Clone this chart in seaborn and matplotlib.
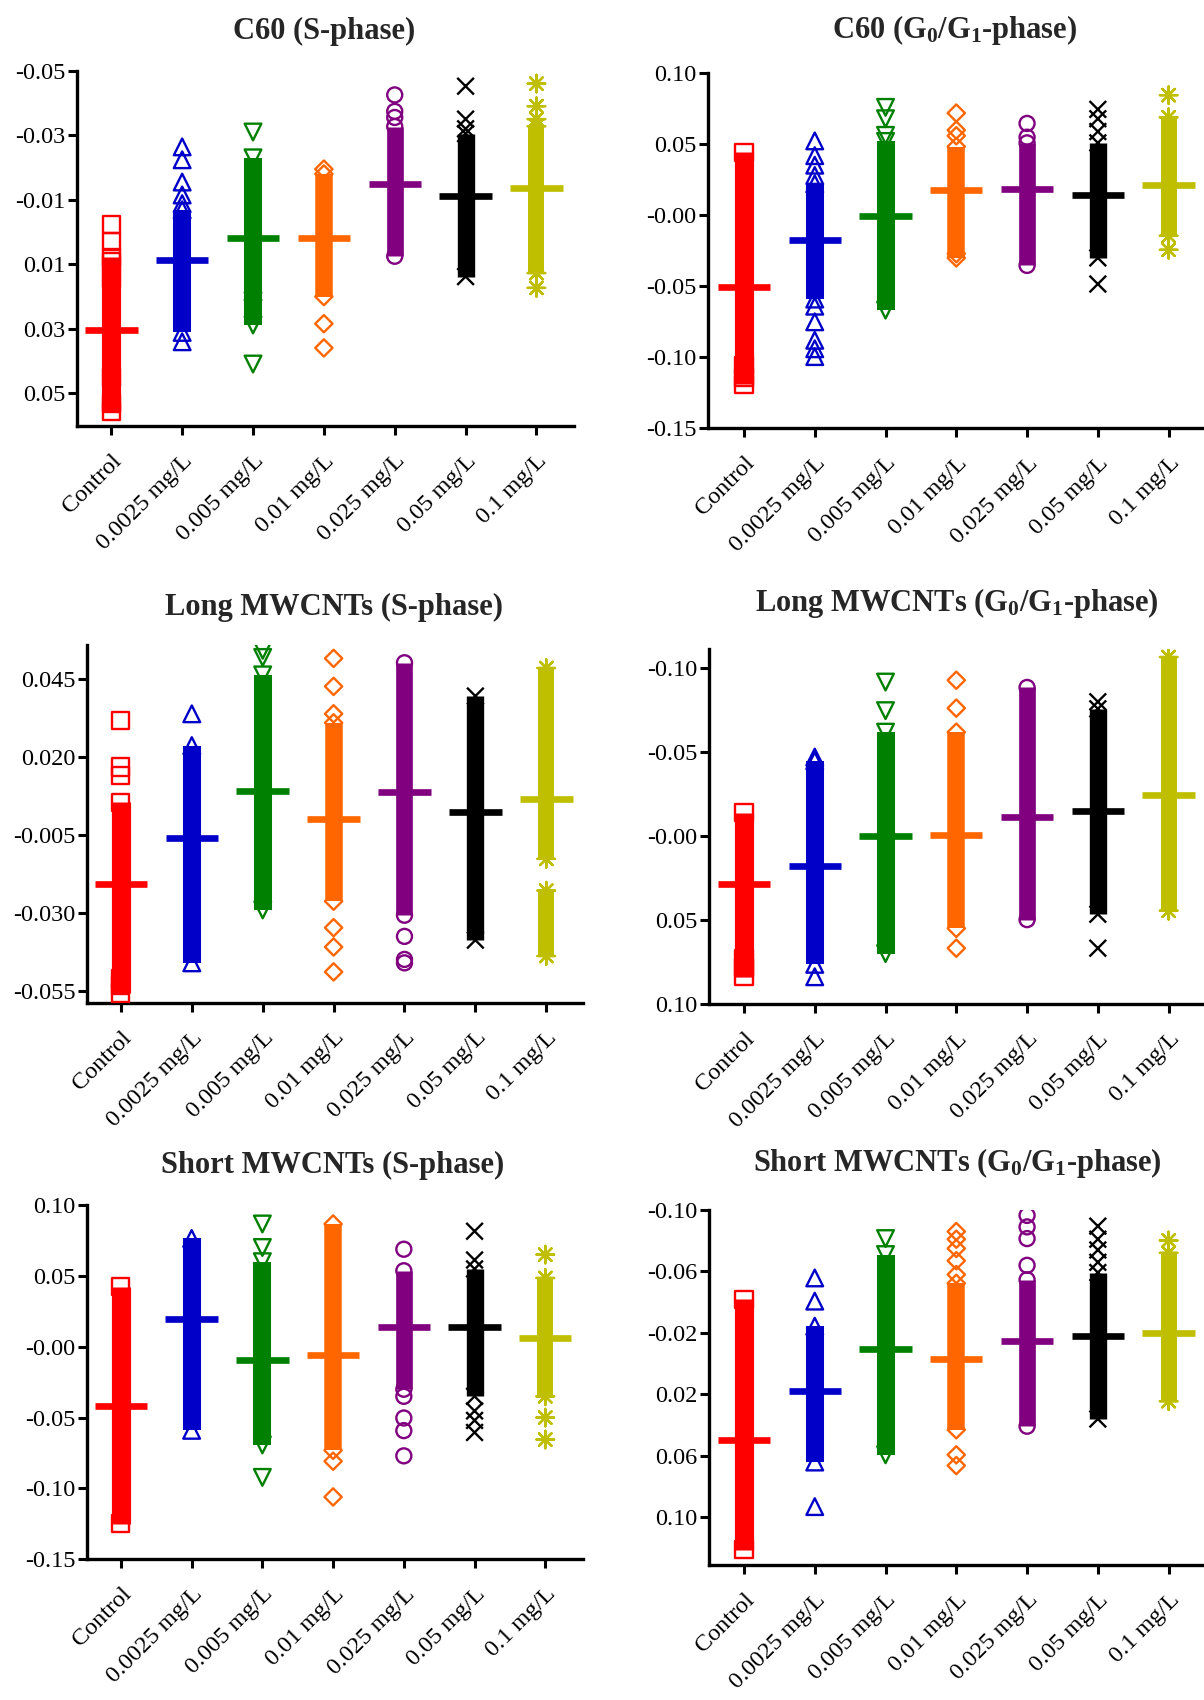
import numpy as np
import pandas as pd
import matplotlib
matplotlib.use("Agg")
import matplotlib.pyplot as plt
import matplotlib.transforms as mtransforms
from matplotlib.collections import PathCollection
import seaborn as sns

sns.set_theme(style="ticks")
plt.rcParams["font.family"] = ["Liberation Serif", "DejaVu Serif"]
plt.rcParams["mathtext.fontset"] = "custom"
plt.rcParams["mathtext.rm"] = "Liberation Serif:bold"
plt.rcParams["mathtext.bf"] = "Liberation Serif:bold"
plt.rcParams["mathtext.it"] = "Liberation Serif:bold"

# ---------------- data ----------------
categories = ["Control", "0.0025 mg/L", "0.005 mg/L", "0.01 mg/L",
              "0.025 mg/L", "0.05 mg/L", "0.1 mg/L"]

titles = ["C60 (S-phase)", r"C60 (G$_{0}$/G$_{1}$-phase)",
          "Long MWCNTs (S-phase)", r"Long MWCNTs (G$_{0}$/G$_{1}$-phase)",
          "Short MWCNTs (S-phase)", r"Short MWCNTs (G$_{0}$/G$_{1}$-phase)"]

# tick values and tick labels
c60_s_ticks = [-0.05, -0.03, -0.01, 0.01, 0.03, 0.05]
c60_s_ticklabels = ["-0.05", "-0.03", "-0.01", "0.01", "0.03", "0.05"]
c60_g_ticks = [0.10, 0.05, 0.00, -0.05, -0.10, -0.15]
c60_g_ticklabels = ["0.10", "0.05", "-0.00", "-0.05", "-0.10", "-0.15"]
long_s_ticks = [0.045, 0.020, -0.005, -0.030, -0.055]
long_s_ticklabels = ["0.045", "0.020", "-0.005", "-0.030", "-0.055"]
long_g_ticks = [-0.10, -0.05, 0.00, 0.05, 0.10]
long_g_ticklabels = ["-0.10", "-0.05", "-0.00", "0.05", "0.10"]
short_s_ticks = [0.10, 0.05, 0.00, -0.05, -0.10, -0.15]
short_s_ticklabels = ["0.10", "0.05", "-0.00", "-0.05", "-0.10", "-0.15"]
short_g_ticks = [-0.10, -0.06, -0.02, 0.02, 0.06, 0.10]
short_g_ticklabels = ["-0.10", "-0.06", "-0.02", "0.02", "0.06", "0.10"]

# group means
c60_s_means = [0.0305, 0.0087, 0.0018, 0.0018, -0.0149, -0.0112, -0.0135]
c60_g_means = [-0.0503, -0.0175, -0.0008, 0.0175, 0.0183, 0.0144, 0.0215]
long_s_means = [-0.0207, -0.0061, 0.0091, 0.0001, 0.0088, 0.0023, 0.0064]
long_g_means = [0.0288, 0.0180, 0.0003, -0.0005, -0.0112, -0.0148, -0.0246]
short_s_means = [-0.0415, 0.0199, -0.0095, -0.0055, 0.0138, 0.0138, 0.0062]
short_g_means = [0.0496, 0.0175, -0.0098, -0.0030, -0.0146, -0.0179, -0.0198]

# ranges densely covered by overlapping points (low, high)
c60_s_dense = [[(0.0078, 0.0555)], [(-0.0069, 0.0311)], [(-0.0230, 0.0288)],
               [(-0.0180, 0.0200)], [(-0.0327, 0.0075)], [(-0.0305, 0.0138)],
               [(-0.0328, 0.0127)]]
c60_g_dense = [[(-0.119, 0.0445)], [(-0.059, 0.0222)], [(-0.0668, 0.052)],
               [(-0.030, 0.0484)], [(-0.0353, 0.051)], [(-0.030, 0.051)],
               [(-0.0144, 0.069)]]
long_s_dense = [[(-0.0558, 0.0055)], [(-0.0461, 0.0237)], [(-0.0291, 0.0464)],
                [(-0.0263, 0.031)], [(-0.0308, 0.0503)], [(-0.0388, 0.0396)],
                [(-0.0127, 0.0486), (-0.0439, -0.0229)]]
long_g_dense = [[(-0.0139, 0.0838)], [(-0.0447, 0.0764)], [(-0.0617, 0.070)],
                [(-0.0617, 0.055)], [(-0.0883, 0.0498)], [(-0.0756, 0.0466)],
                [(-0.1064, 0.0445)]]
short_s_dense = [[(-0.125, 0.0422)], [(-0.059, 0.0764)], [(-0.0693, 0.060)],
                 [(-0.0731, 0.0866)], [(-0.030, 0.0536)], [(-0.035, 0.0549)],
                 [(-0.035, 0.0485)]]
short_g_dense = [[(-0.0419, 0.121)], [(-0.0244, 0.064)], [(-0.071, 0.0593)],
                 [(-0.0523, 0.043)], [(-0.0546, 0.0407)], [(-0.0593, 0.036)],
                 [(-0.0721, 0.0244)]]

# isolated points
c60_s_points = [[-0.0023, 0.0029, 0.009, 0.0145, 0.045, 0.053],
                [-0.0264, -0.0224, -0.0155, -0.0115, -0.0088, 0.034],
                [-0.031, 0.0213, 0.0236, 0.0409],
                [-0.0195, 0.0284, 0.0359],
                [-0.0425, -0.0374, -0.0355],
                [-0.0452, -0.035, -0.032],
                [-0.046, -0.039, -0.035, 0.0173]]
c60_g_points = [[-0.114, -0.106],
                [0.0524, 0.042, 0.0353, 0.028, -0.064, -0.075, -0.088, -0.094, -0.0995],
                [0.076, 0.068, 0.0563],
                [0.072, 0.060, 0.056, -0.027],
                [0.0647, 0.055],
                [0.0746, 0.068, 0.059, -0.0484],
                [0.0846, -0.0243]]
long_s_points = [[0.0318, 0.0168, 0.014, -0.0513, -0.0535],
                 [0.0339],
                 [0.0543, 0.052],
                 [0.0517, 0.0427, 0.0339, -0.0348, -0.041, -0.049],
                 [-0.0376, -0.0461, -0.045],
                 [],
                 []]
long_g_points = [[0.0732, 0.0785],
                 [-0.0469, 0.0838],
                 [-0.0915, -0.0745],
                 [-0.0926, -0.076, 0.0668],
                 [],
                 [-0.0798, 0.0668],
                 []]
short_s_points = [[],
                  [],
                  [0.0866, 0.070, -0.0922],
                  [-0.0808, -0.106],
                  [0.0688, -0.035, -0.0503, -0.0592, -0.077],
                  [0.0815, 0.0612, -0.0453, -0.052, -0.0605],
                  [0.065, -0.050, -0.0655]]
short_g_points = [[],
                  [-0.0558, -0.0407, 0.093],
                  [-0.0814],
                  [-0.086, -0.081, -0.075, -0.067, -0.058, 0.0593, 0.0663],
                  [-0.0965, -0.089, -0.0814, -0.064],
                  [-0.0895, -0.081, -0.074, -0.066],
                  [-0.0802]]

# ---------------- styles / layout ----------------
colors = ["#FF0000", "#0000C8", "#008000", "#FF6600", "#800080", "#000000", "#BFBF00"]
markers = ["s", "^", "v", "D", "o", "x", (8, 2, 0)]
msizes = [12.3, 12.0, 12.0, 8.8, 10.8, 12.0, 12.6]
band_w = [13.8, 13.0, 13.0, 12.6, 12.0, 12.5, 11.5]

W, H = 1204, 1700
panels = [
    # (title, ticks, labels, means, dense, points, box(l,t,r,b), (top value, bottom value), xlim, title pos)
    (titles[0], c60_s_ticks, c60_s_ticklabels, c60_s_means, c60_s_dense, c60_s_points,
     (77, 70.7, 574, 426), (-0.05, 0.0601), (-0.484, 6.53), (324, 31)),
    (titles[1], c60_g_ticks, c60_g_ticklabels, c60_g_means, c60_g_dense, c60_g_points,
     (708.3, 73.3, 1204, 428.3), (0.10, -0.15), (-0.504, 6.5), (955, 30)),
    (titles[2], long_s_ticks, long_s_ticklabels, long_s_means, long_s_dense, long_s_points,
     (87.3, 645, 583.5, 1002.7), (0.056, -0.0589), (-0.474, 6.525), (334, 607)),
    (titles[3], long_g_ticks, long_g_ticklabels, long_g_means, long_g_dense, long_g_points,
     (709, 649.3, 1204, 1004), (-0.111, 0.10), (-0.494, 6.5), (957, 603)),
    (titles[4], short_s_ticks, short_s_ticklabels, short_s_means, short_s_dense, short_s_points,
     (87.3, 1205, 583.5, 1559.3), (0.10, -0.15), (-0.475, 6.54), (333, 1165)),
    (titles[5], short_g_ticks, short_g_ticklabels, short_g_means, short_g_dense, short_g_points,
     (709, 1210, 1204, 1565), (-0.10, 0.131), (-0.494, 6.5), (957, 1163)),
]

fig = plt.figure(figsize=(W / 100, H / 100), dpi=100)
label_shift = mtransforms.ScaledTranslation(6 / 100, 0, fig.dpi_scale_trans)

for (title, ticks, tlabels, means, dense, points, box, yext, xlim, tpos) in panels:
    l, t, r, b = box
    ax = fig.add_axes([l / W, 1 - b / H, (r - l) / W, (b - t) / H])
    for i, cat in enumerate(categories):
        col = colors[i]
        for lo, hi in dense[i]:
            ax.vlines(i, lo, hi, colors=col, linewidth=band_w[i], capstyle="butt", zorder=2)
        vals = list(points[i]) + [v for rng in dense[i] for v in rng]
        df = pd.DataFrame({"group": [cat] * len(vals), "value": vals})
        n_before = len(ax.collections)
        sns.stripplot(data=df, x="group", y="value", order=categories, jitter=False,
                      marker=markers[i], size=msizes[i], color=col, ax=ax, zorder=3)
        for coll in ax.collections[n_before:]:
            if isinstance(coll, PathCollection):
                coll.set_facecolors("none")
                coll.set_edgecolors(col)
                coll.set_linewidths(1.7)
    xs = np.arange(len(categories))
    ax.hlines(means, xs - 0.37, xs + 0.37, colors=colors, linewidth=4.8,
              capstyle="butt", zorder=5)

    ax.set_xlim(*xlim)
    ax.set_ylim(yext[1], yext[0])
    ax.set_yticks(ticks)
    ax.set_yticklabels(tlabels, fontsize=17.5)
    ax.set_xticks(xs)
    ax.set_xticklabels(categories, fontsize=17.5, rotation=45, ha="right",
                       va="top", rotation_mode="anchor")
    for lab in ax.get_xticklabels():
        lab.set_transform(lab.get_transform() + label_shift)
    ax.set_xlabel("")
    ax.set_ylabel("")
    for side in ["top", "right"]:
        ax.spines[side].set_visible(False)
    for side in ["left", "bottom"]:
        ax.spines[side].set_linewidth(2.4)
        ax.spines[side].set_color("black")
        ax.spines[side].set_capstyle("projecting")
    ax.tick_params(axis="both", direction="out", length=6.5, width=2.2,
                   color="black", labelcolor="black")
    ax.tick_params(axis="y", pad=2)
    ax.tick_params(axis="x", pad=11)
    ax.grid(False)
    fig.text(tpos[0] / W, 1 - tpos[1] / H, title, ha="center", va="center",
             fontsize=22, fontweight="bold")

fig.savefig("out.png", dpi=100)
